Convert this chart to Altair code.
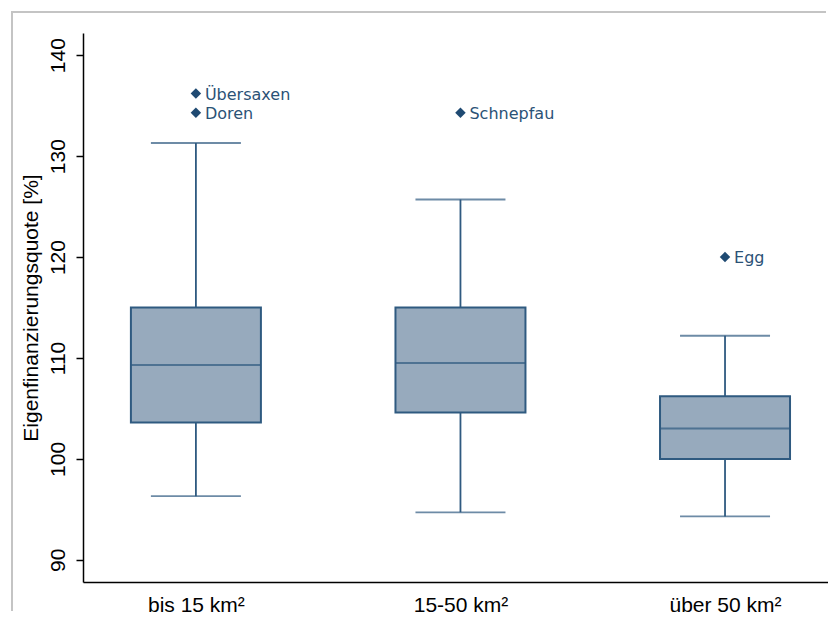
import altair as alt
import pandas as pd

categories = ["bis 15 km²", "15-50 km²", "über 50 km²"]
lower_whisker = [96.3, 94.7, 94.3]
q1 = [103.6, 104.6, 100.0]
median = [109.3, 109.5, 103.0]
q3 = [115.0, 115.0, 106.2]
upper_whisker = [131.3, 125.7, 112.2]

outlier_cat = ["bis 15 km²", "bis 15 km²", "15-50 km²", "über 50 km²"]
outlier_value = [136.2, 134.3, 134.3, 120.0]
outlier_name = ["Übersaxen", "Doren", "Schnepfau", "Egg"]

y_ticks = [90, 100, 110, 120, 130, 140]
y_domain = [87.8, 142.2]

boxes = pd.DataFrame({
    "cat": categories,
    "lower": lower_whisker,
    "q1": q1,
    "median": median,
    "q3": q3,
    "upper": upper_whisker,
})
outliers = pd.DataFrame({"cat": outlier_cat, "value": outlier_value, "name": outlier_name})

STROKE = "#2f5a80"
FILL = "#97aabd"
NAVY = "#1f4a72"
AXFONT = "Liberation Sans"

x_enc = alt.X(
    "cat:N",
    scale=alt.Scale(type="point", domain=categories, padding=0.408, align=0.523),
    axis=alt.Axis(
        title=None, ticks=False, tickSize=0, labelFontSize=21, labelFont=AXFONT,
        labelColor="black", domainColor="black", domainWidth=1.5, labelPadding=12,
        labelAngle=0,
    ),
)
y_scale = alt.Scale(domain=y_domain, nice=False, zero=False)
y_axis = alt.Axis(
    values=y_ticks, title="Eigenfinanzierungsquote [%]", grid=False,
    labelAngle=270, labelAlign="center", labelBaseline="bottom",
    labelFontSize=21, labelFont=AXFONT, labelColor="black", labelPadding=8,
    tickSize=7, tickColor="black", tickWidth=1.5, domainColor="black", domainWidth=1.5,
    titleFontSize=21, titleFont=AXFONT, titleFontWeight="normal", titleColor="black",
    titleAngle=270, titleAlign="center", titleBaseline="middle", titleX=-52, titleY=274.5,
)

base = alt.Chart(boxes)

whisker = base.mark_rule(color=STROKE, strokeWidth=1.8).encode(
    x=x_enc, y=alt.Y("lower:Q", scale=y_scale, axis=y_axis), y2="upper:Q"
)
cap_low = base.mark_tick(color=STROKE, size=90, thickness=1.8).encode(
    x=x_enc, y=alt.Y("lower:Q", scale=y_scale)
)
cap_high = base.mark_tick(color=STROKE, size=90, thickness=1.8).encode(
    x=x_enc, y=alt.Y("upper:Q", scale=y_scale)
)
box = base.mark_bar(size=130, fill=FILL, stroke=STROKE, strokeWidth=2).encode(
    x=x_enc, y=alt.Y("q1:Q", scale=y_scale), y2="q3:Q"
)
med = base.mark_tick(color=STROKE, size=130, thickness=2).encode(
    x=x_enc, y=alt.Y("median:Q", scale=y_scale)
)

opts = alt.Chart(outliers)
pts = opts.mark_point(shape="diamond", filled=True, size=110, color=NAVY, opacity=1).encode(
    x=x_enc, y=alt.Y("value:Q", scale=y_scale)
)
labels = opts.mark_text(
    align="left", baseline="middle", dx=9, dy=1, fontSize=16, font="DejaVu Sans", color="#2b5276"
).encode(x=x_enc, y=alt.Y("value:Q", scale=y_scale), text="name:N")

frame_data = alt.Chart(pd.DataFrame({"a": [0]}))
frame_left = frame_data.mark_rule(color="#c4c4c4", strokeWidth=2).encode(
    x=alt.value(-71), y=alt.value(-22), y2=alt.value(578)
)
frame_top = frame_data.mark_rule(color="#c4c4c4", strokeWidth=2).encode(
    x=alt.value(-72), x2=alt.value(743), y=alt.value(-21)
)

chart = alt.layer(
    frame_left, frame_top, whisker, cap_low, cap_high, box, med, pts, labels
).properties(
    width=745, height=549,
    autosize=alt.AutoSizeParams(type="none"),
    padding={"left": 75, "top": 25, "right": 0, "bottom": 34},
    background="white",
).configure_view(stroke=None)

chart.save("out.html", embed_options={"renderer": "svg", "actions": False})
